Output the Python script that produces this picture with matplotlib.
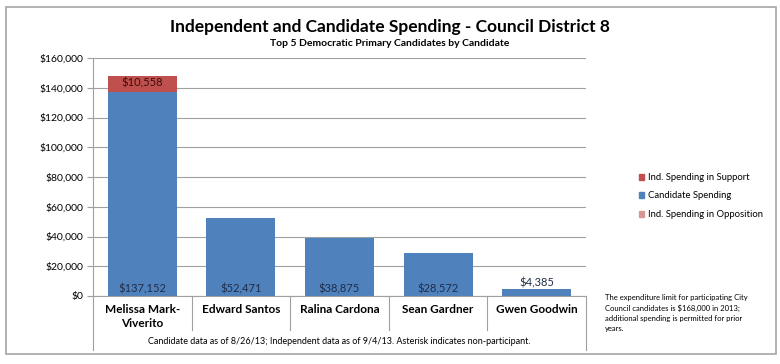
import matplotlib.pyplot as plt
import matplotlib.transforms as mtransforms
from matplotlib.patches import Rectangle, Patch

plt.rcParams['font.family'] = ['Lato', 'DejaVu Sans']

# --- Data ---
candidates = ['Melissa Mark-\nViverito', 'Edward Santos', 'Ralina Cardona',
              'Sean Gardner', 'Gwen Goodwin']
candidate_spending = [137152, 52471, 38875, 28572, 4385]
ind_support = [10558, 0, 0, 0, 0]
ind_opposition = [0, 0, 0, 0, 0]
y_ticks = [0, 20000, 40000, 60000, 80000, 100000, 120000, 140000, 160000]

BLUE = '#4F81BD'
RED = '#C0504D'
PINK = '#D99694'

fig = plt.figure(figsize=(7.8, 3.64), dpi=100)
W, H = 780, 364

# outer frame
fig.patches.append(Rectangle((6 / W, 1 - 354 / H), 770 / W, 347 / H,
                             transform=fig.transFigure, fill=False,
                             edgecolor='#A6A6A6', linewidth=1.2))

ax = fig.add_axes([93 / W, 1 - 296 / H, 493 / W, 238 / H])

x = list(range(len(candidates)))
bw = 0.70
ax.bar(x, candidate_spending, bw, color=BLUE, zorder=2)
ax.bar(x, ind_support, bw, bottom=candidate_spending, color=RED, zorder=2)
bottoms = [a + b for a, b in zip(candidate_spending, ind_support)]
ax.bar(x, ind_opposition, bw, bottom=bottoms, color=PINK, zorder=2)

ax.set_xlim(-0.5, len(candidates) - 0.5)
ax.set_ylim(0, 160000)
ax.set_yticks(y_ticks)
ax.set_yticklabels([f'${v:,.0f}' for v in y_ticks], fontsize=7.5)
ax.yaxis.grid(True, color='#A0A0A0', linewidth=0.8, zorder=0)
ax.tick_params(axis='y', length=4, color='#A0A0A0', pad=3)
ax.set_xticks([])
for s in ['top', 'right']:
    ax.spines[s].set_visible(False)
ax.spines['left'].set_color('#A0A0A0')
ax.spines['bottom'].set_color('#A0A0A0')

# data labels
for i, v in enumerate(candidate_spending):
    if v > 15000:
        ax.text(i, 4500, f'${v:,}', ha='center', va='center', fontsize=8,
                color='#1F2D4A', zorder=3)
    else:
        ax.text(i, v + 500, f'${v:,}', ha='center', va='bottom', fontsize=8,
                color='#1F2D4A', zorder=3)
for i, v in enumerate(ind_support):
    if v > 0:
        ax.text(i, candidate_spending[i] + v - 4500, f'${v:,}', ha='center',
                va='center', fontsize=8, color='#3A0D0C', zorder=3)

# category labels and separators below the axis
trans = mtransforms.blended_transform_factory(ax.transData, ax.transAxes)
px = 1 / 238
for i, name in enumerate(candidates):
    ax.text(i, -8 * px, name, transform=trans, ha='center', va='top',
            fontsize=8.5, fontweight='bold', linespacing=1.3)
for b in range(1, len(candidates)):
    ax.plot([b - 0.5, b - 0.5], [0, -34 * px], transform=trans,
            color='#A0A0A0', linewidth=0.8, clip_on=False)
for b in [-0.5, len(candidates) - 0.5]:
    ax.plot([b, b], [0, -54 * px], transform=trans,
            color='#A0A0A0', linewidth=0.8, clip_on=False)
ax.text(2, -46 * px, 'Candidate data as of 8/26/13; Independent data as of 9/4/13. '
        'Asterisk indicates non-participant.', transform=trans, ha='center',
        va='center', fontsize=6.5)

# titles
fig.text(390 / W, 1 - 27 / H, 'Independent and Candidate Spending - Council District 8',
         ha='center', va='center', fontsize=12.5, fontweight='bold')
fig.text(390 / W, 1 - 44 / H, 'Top 5 Democratic Primary Candidates by Candidate',
         ha='center', va='center', fontsize=7.5, fontweight='bold')

# legend
handles = [Patch(color=RED), Patch(color=BLUE), Patch(color=PINK)]
labels = ['Ind. Spending in Support', 'Candidate Spending',
          'Ind. Spending in Opposition']
fig.legend(handles, labels, loc='center left', bbox_to_anchor=(630 / W, 1 - 196 / H),
           frameon=False, fontsize=6.8, handlelength=0.6, handleheight=0.6,
           handletextpad=0.4, labelspacing=1.0)

# note
fig.text(605 / W, 1 - 294 / H,
         'The expenditure limit for participating City\n'
         'Council candidates is $168,000 in 2013;\n'
         'additional spending is permitted for prior\n'
         'years.', ha='left', va='top', fontsize=5.5, linespacing=1.5)

fig.savefig('out.png', dpi=100)
